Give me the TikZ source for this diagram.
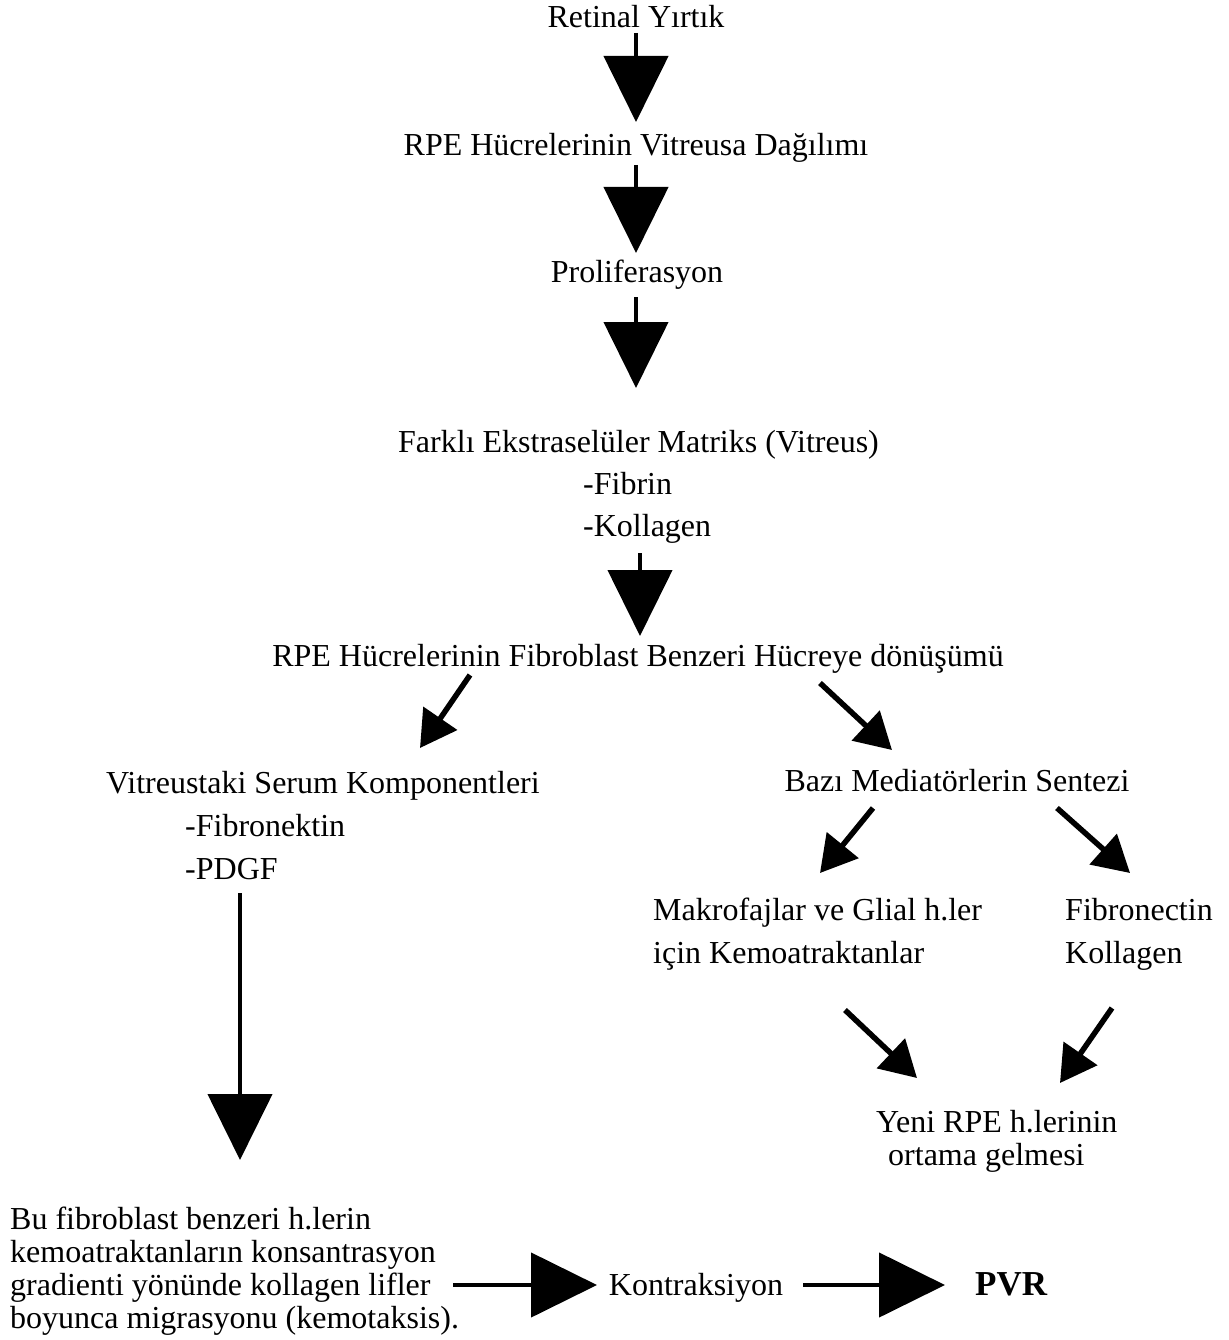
\documentclass[tikz,border=0pt]{standalone}
\usepackage{fontspec}
\setmainfont{Liberation Serif}
\usetikzlibrary{arrows.meta}
\begin{document}
\begin{tikzpicture}[x=1pt,y=-1pt,
  txt/.style={inner sep=0pt, font=\fontsize{32}{42}\selectfont},
  bigarrow/.style={line width=4.5pt, -{Triangle[width=64pt,length=66pt]}},
  smallarrow/.style={line width=5.5pt, -{Triangle[width=40pt,length=36pt]}}]
\useasboundingbox (0,0) rectangle (1228,1340);
% texts
\node[txt, anchor=base] (n1) at (636,28) {Retinal Yırtık};
\node[txt, anchor=base] (n2) at (636,156) {RPE Hücrelerinin Vitreusa Dağılımı};
\node[txt, anchor=base] (n3) at (637,282) {Proliferasyon};
\node[txt, anchor=north west, align=left] (n4) at (398,430)
  {Farklı Ekstraselüler Matriks (Vitreus)\\\hspace*{185pt}-Fibrin\\\hspace*{185pt}-Kollagen};
\node[txt, anchor=base] (n5) at (638,666) {RPE Hücrelerinin Fibroblast Benzeri Hücreye dönüşümü};
\node[txt, anchor=north west, align=left, font=\fontsize{32}{43}\selectfont] (n6) at (106,771)
  {Vitreustaki Serum Komponentleri\\\hspace*{79pt}-Fibronektin\\\hspace*{79pt}-PDGF};
\node[txt, anchor=base] (n7) at (957,791) {Bazı Mediatörlerin Sentezi};
\node[txt, anchor=north west, align=left, font=\fontsize{32}{43}\selectfont] (n8) at (653,898)
  {Makrofajlar ve Glial h.ler\\için Kemoatraktanlar};
\node[txt, anchor=north west, align=left, font=\fontsize{32}{43}\selectfont] (n9) at (1065,898)
  {Fibronectin\\Kollagen};
\node[txt, anchor=north west, align=left, font=\fontsize{32}{33}\selectfont] (n10) at (876,1110)
  {Yeni RPE h.lerinin\\\hspace*{12pt}ortama gelmesi};
\node[txt, anchor=north west, align=left, font=\fontsize{32}{33}\selectfont] (n11) at (10,1207)
  {Bu fibroblast benzeri h.lerin\\kemoatraktanların konsantrasyon\\gradienti yönünde kollagen lifler\\boyunca migrasyonu (kemotaksis).};
\node[txt, anchor=base] (n12) at (696,1295) {Kontraksiyon};
\node[txt, anchor=base west, font=\fontsize{35}{40}\selectfont\bfseries] (n13) at (975,1295) {PVR};
% arrow end points
\coordinate (a1s) at (636,33);  \coordinate (a1e) at (636,122);
\coordinate (a2s) at (636,165); \coordinate (a2e) at (636,253);
\coordinate (a3s) at (636,297); \coordinate (a3e) at (636,388);
\coordinate (a4s) at (640,553); \coordinate (a4e) at (640,636);
\coordinate (a5s) at (240,893); \coordinate (a5e) at (240,1160);
\coordinate (h1s) at (453,1285); \coordinate (h1e) at (597,1285);
\coordinate (h2s) at (803,1285); \coordinate (h2e) at (945,1285);
\coordinate (d1s) at (470,675);  \coordinate (d1e) at (420,748);
\coordinate (d2s) at (820,683);  \coordinate (d2e) at (892,750);
\coordinate (d3s) at (873,808);  \coordinate (d3e) at (820,873);
\coordinate (d4s) at (1057,808); \coordinate (d4e) at (1130,873);
\coordinate (d5s) at (845,1010); \coordinate (d5e) at (917,1078);
\coordinate (d6s) at (1112,1008);\coordinate (d6e) at (1060,1083);
% arrows
\draw[bigarrow] (a1s) -- (a1e);
\draw[bigarrow] (a2s) -- (a2e);
\draw[bigarrow] (a3s) -- (a3e);
\draw[bigarrow] (a4s) -- (a4e);
\draw[bigarrow] (a5s) -- (a5e);
\draw[bigarrow] (h1s) -- (h1e);
\draw[bigarrow] (h2s) -- (h2e);
\draw[smallarrow] (d1s) -- (d1e);
\draw[smallarrow] (d2s) -- (d2e);
\draw[smallarrow] (d3s) -- (d3e);
\draw[smallarrow] (d4s) -- (d4e);
\draw[smallarrow] (d5s) -- (d5e);
\draw[smallarrow] (d6s) -- (d6e);
\end{tikzpicture}
\end{document}
